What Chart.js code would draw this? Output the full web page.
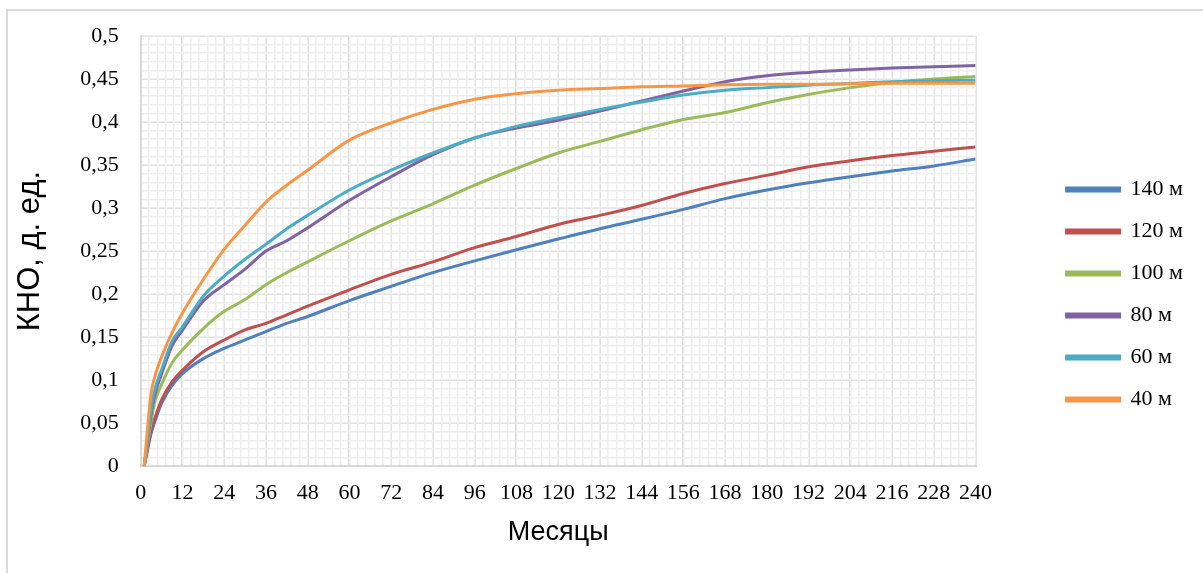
<!DOCTYPE html>
<html>
<head>
<meta charset="utf-8">
<script src="https://cdn.jsdelivr.net/npm/chart.js@4.4.0/dist/chart.umd.min.js"></script>
<style>
body { margin: 0; background: #fff; overflow: hidden; }
#frame { position: absolute; left: 6px; top: 9px; width: 1300px; height: 700px; border-left: 2px solid #d9d9d9; border-top: 2px solid #d9d9d9; }
#myChart { position: absolute; left: 0; top: 0; }
</style>
</head>
<body>
<div id="frame"></div>
<canvas id="myChart" width="1203" height="573"></canvas>
<script>
// месяцы (ось X) и КНО по каждой длине
const months = [1, 3, 4, 6, 9, 12, 18, 24, 30, 36, 42, 48, 60, 72, 84, 96, 108, 120, 132, 144, 156, 168, 180, 192, 204, 216, 228, 240]
const kno140 = [0, 0.038, 0.051, 0.073, 0.094, 0.1076, 0.125, 0.137, 0.1467, 0.1565, 0.166, 0.174, 0.1925, 0.209, 0.225, 0.2386, 0.2515, 0.264, 0.276, 0.287, 0.2985, 0.311, 0.321, 0.3294, 0.3365, 0.343, 0.349, 0.357]
const kno120 = [0, 0.042, 0.055, 0.077, 0.098, 0.1115, 0.133, 0.1467, 0.1585, 0.166, 0.176, 0.186, 0.205, 0.223, 0.2375, 0.254, 0.267, 0.281, 0.2915, 0.303, 0.317, 0.3286, 0.338, 0.348, 0.355, 0.361, 0.366, 0.371]
const kno100 = [0, 0.052, 0.074, 0.095, 0.12, 0.135, 0.160, 0.18, 0.1937, 0.211, 0.225, 0.2375, 0.262, 0.285, 0.305, 0.3267, 0.346, 0.364, 0.3775, 0.391, 0.403, 0.411, 0.4225, 0.432, 0.440, 0.446, 0.450, 0.453]
const kno80 = [0, 0.06, 0.082, 0.107, 0.14, 0.158, 0.192, 0.211, 0.229, 0.250, 0.262, 0.277, 0.309, 0.3365, 0.362, 0.3815, 0.393, 0.402, 0.4127, 0.4245, 0.436, 0.4468, 0.4538, 0.4577, 0.4605, 0.4628, 0.4644, 0.4656]
const kno60 = [0, 0.065, 0.088, 0.112, 0.145, 0.162, 0.1976, 0.221, 0.2406, 0.258, 0.276, 0.2915, 0.321, 0.344, 0.364, 0.3815, 0.395, 0.405, 0.4147, 0.4233, 0.4315, 0.437, 0.440, 0.4429, 0.4448, 0.4468, 0.448, 0.4487]
const kno40 = [0, 0.085, 0.103, 0.127, 0.155, 0.178, 0.217, 0.252, 0.28, 0.307, 0.3267, 0.344, 0.379, 0.399, 0.4147, 0.4265, 0.433, 0.437, 0.439, 0.441, 0.442, 0.4433, 0.444, 0.444, 0.4445, 0.445, 0.445, 0.445]

const seriesNames = ["140 м", "120 м", "100 м", "80 м", "60 м", "40 м"]
const seriesData = [kno140, kno120, kno100, kno80, kno60, kno40]
const seriesColors = ["#4F81BD", "#C0504D", "#9BBB59", "#8064A2", "#4BACC6", "#F79646"]

const serif = "'Liberation Serif', 'Times New Roman', serif"
const sans = "'Liberation Sans', Arial, sans-serif"

const datasets = seriesData.map((vals, i) => ({
    label: seriesNames[i],
    data: vals.map((v, j) => ({ x: months[j], y: v })),
    borderColor: seriesColors[i],
    backgroundColor: seriesColors[i],
    borderWidth: 3,
    pointRadius: 0,
    cubicInterpolationMode: 'monotone',
    xAxisID: 'x',
    yAxisID: 'y',
    order: seriesData.length - i
}))

const config = {
    type: 'line',
    data: { datasets: datasets },
    options: {
        responsive: false,
        animation: false,
        layout: { padding: { left: 12, right: 10, top: 36, bottom: 20 } },
        plugins: {
            legend: {
                position: 'right',
                reverse: true,
                labels: {
                    boxWidth: 53,
                    boxHeight: 3,
                    padding: 20,
                    color: '#000',
                    font: { family: serif, size: 22 }
                }
            },
            tooltip: { enabled: false }
        },
        scales: {
            x: {
                type: 'linear',
                min: 0,
                max: 240,
                ticks: { stepSize: 12, autoSkip: false, maxRotation: 0, color: '#000', padding: 14, font: { family: serif, size: 22 } },
                grid: { color: '#d9d9d9', lineWidth: 2, drawTicks: false },
                border: { color: '#d9d9d9', width: 2 },
                title: { display: true, text: 'Месяцы', color: '#000', font: { family: sans, size: 27 }, padding: { top: -4, bottom: 4 } }
            },
            y: {
                type: 'linear',
                min: 0,
                max: 0.5,
                ticks: {
                    stepSize: 0.05,
                    color: '#000',
                    padding: 22,
                    font: { family: serif, size: 22 },
                    callback: v => String(Math.round(v * 100) / 100).replace('.', ',')
                },
                grid: { color: '#d9d9d9', lineWidth: 2, drawTicks: false },
                border: { color: '#d9d9d9', width: 2 },
                title: { display: true, text: 'КНО, д. ед.', color: '#000', font: { family: sans, size: 31 }, padding: { top: 0, bottom: 9 } }
            },
            xm: {
                type: 'linear',
                position: 'top',
                min: 0,
                max: 240,
                z: -1,
                ticks: { display: false, stepSize: 2.4 },
                grid: { color: '#eeeeee', lineWidth: 1.5, drawTicks: false },
                border: { display: false },
                afterFit: s => { s.height = 0 }
            },
            ym: {
                type: 'linear',
                position: 'right',
                min: 0,
                max: 0.5,
                z: -1,
                ticks: { display: false, stepSize: 0.01 },
                grid: { color: '#eeeeee', lineWidth: 1.5, drawTicks: false },
                border: { display: false },
                afterFit: s => { s.width = 71 }
            }
        }
    }
}

new Chart(document.getElementById("myChart"), config)
</script>
</body>
</html>
